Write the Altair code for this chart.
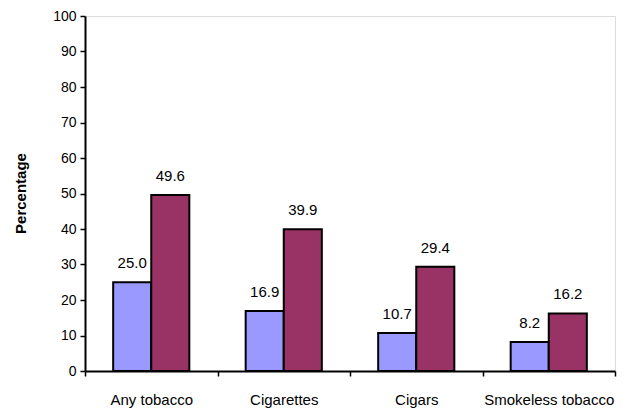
import altair as alt
import pandas as pd

categories = ["Any tobacco", "Cigarettes", "Cigars", "Smokeless tobacco"]
series_names = ["Series 1", "Series 2"]
series1 = [25.0, 16.9, 10.7, 8.2]
series2 = [49.6, 39.9, 29.4, 16.2]
colors = ["#9999FF", "#993366"]

rows = []
for c, a, b in zip(categories, series1, series2):
    rows.append({"cat": c, "series": series_names[0], "value": a})
    rows.append({"cat": c, "series": series_names[1], "value": b})
df = pd.DataFrame(rows)
df["label"] = df["value"].map(lambda v: f"{v:.1f}")

FONT = "Liberation Sans"

x = alt.X("cat:N", sort=categories,
          scale=alt.Scale(paddingInner=0, paddingOuter=0),
          axis=alt.Axis(title=None, labelAngle=0, labelFontSize=15, labelFont=FONT,
                        labelColor="black", labelPadding=16, tickBand="extent",
                        tickColor="black", tickSize=5, tickWidth=1.5,
                        domainColor="black", domainWidth=2, grid=False))
xo = alt.XOffset("series:N", sort=series_names,
                 scale=alt.Scale(paddingInner=0, paddingOuter=0.74))
y = alt.Y("value:Q", scale=alt.Scale(domain=[0, 100], nice=False),
          axis=alt.Axis(title="Percentage", values=list(range(0, 101, 10)),
                        labelFontSize=14, labelFont=FONT, labelColor="black",
                        labelPadding=4, tickColor="black", tickSize=5, tickWidth=1.5,
                        domainColor="black", domainWidth=2, grid=False,
                        titleFont=FONT, titleFontSize=15, titleFontWeight="bold",
                        titleColor="black", titleX=-65, titleY=177, titleAngle=-90,
                        titleBaseline="middle", titleAlign="center"))

bars = alt.Chart(df).mark_bar(stroke="black", strokeWidth=2).encode(
    x=x, xOffset=xo, y=y,
    color=alt.Color("series:N", sort=series_names,
                    scale=alt.Scale(domain=series_names, range=colors), legend=None),
)

labels = alt.Chart(df).mark_text(baseline="bottom", dy=-11, fontSize=15, font=FONT,
                                 color="black").encode(
    x=x, xOffset=xo, y=y, text="label:N")

chart = (bars + labels).properties(
    width=530, height=355,
    autosize=alt.AutoSizeParams(type="none"),
    padding={"left": 77, "top": 8, "right": 4, "bottom": 40},
).configure_view(stroke="#999999", strokeWidth=1.5).configure(background="white")

chart.save("out.html", embed_options={"renderer": "svg", "actions": False})
